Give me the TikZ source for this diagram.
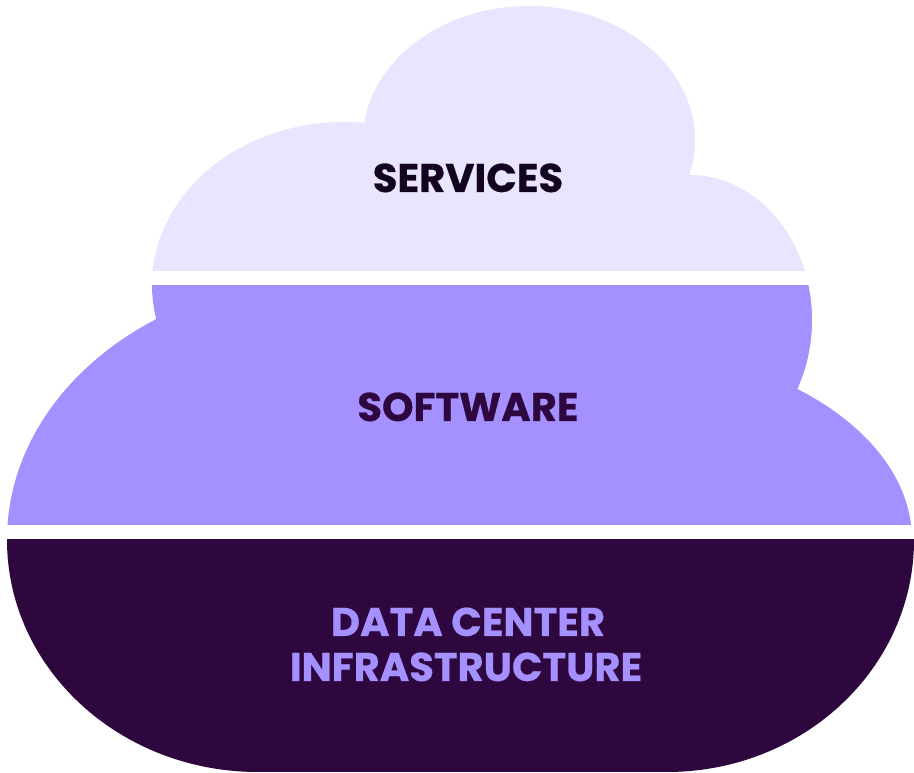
\documentclass[tikz,border=0pt]{standalone}
\usepackage{fontspec}
\newfontfamily\labelfont{Poppins}[BoldFeatures={FakeBold=0.6}]
\definecolor{lightlav}{HTML}{EAE5FE}
\definecolor{midlav}{HTML}{A491FF}
\definecolor{darkplum}{HTML}{2E073F}
\definecolor{inkdark}{HTML}{13051D}
\begin{document}
\begin{tikzpicture}[x=0.02cm,y=-0.02cm,
  lbl/.style={inner sep=0pt, anchor=base, align=center,
    font=\labelfont\bfseries\fontsize{22.8}{25.5}\selectfont}]
\useasboundingbox (0,0) rectangle (914,773);
% ---- top band: services
\begin{scope}
  \clip (0,0) rectangle (914,270.7);
  \fill[lightlav] (529,140) ellipse [x radius=166, y radius=134];
  \fill[lightlav] (344,285) ellipse [x radius=192, y radius=163];
  \fill[lightlav] (690,320) ellipse [x radius=122, y radius=145];
  \fill[lightlav] (340,150) rectangle (680,700);
\end{scope}
% ---- middle band: software
\begin{scope}
  \clip (0,286) rectangle (914,524.3);
  \fill[midlav] (344,285) ellipse [x radius=192, y radius=163];
  \fill[midlav] (690,320) ellipse [x radius=122, y radius=145];
  \fill[midlav] (330,540) ellipse [x radius=323, y radius=262];
  \fill[midlav] (600,540) ellipse [x radius=312, y radius=195];
  \fill[midlav] (340,150) rectangle (680,700);
\end{scope}
% ---- bottom band: infrastructure
\begin{scope}
  \clip (0,539.5) rectangle (914,773);
  \fill[darkplum] (258,540) ellipse [x radius=251, y radius=232];
  \fill[darkplum] (667,540) ellipse [x radius=247, y radius=232];
  \fill[darkplum] (258,530) rectangle (667,772);
\end{scope}
% ---- labels
\node[lbl, text=inkdark] (services) at (468,192) {SERVICES};
\node[lbl, text=darkplum] (software) at (468,421) {SOFTWARE};
\node[lbl, text=midlav] (datacenter) at (468,636) {DATA CENTER};
\node[lbl, text=midlav] (infra) at (466,681) {INFRASTRUCTURE};
\end{tikzpicture}
\end{document}
